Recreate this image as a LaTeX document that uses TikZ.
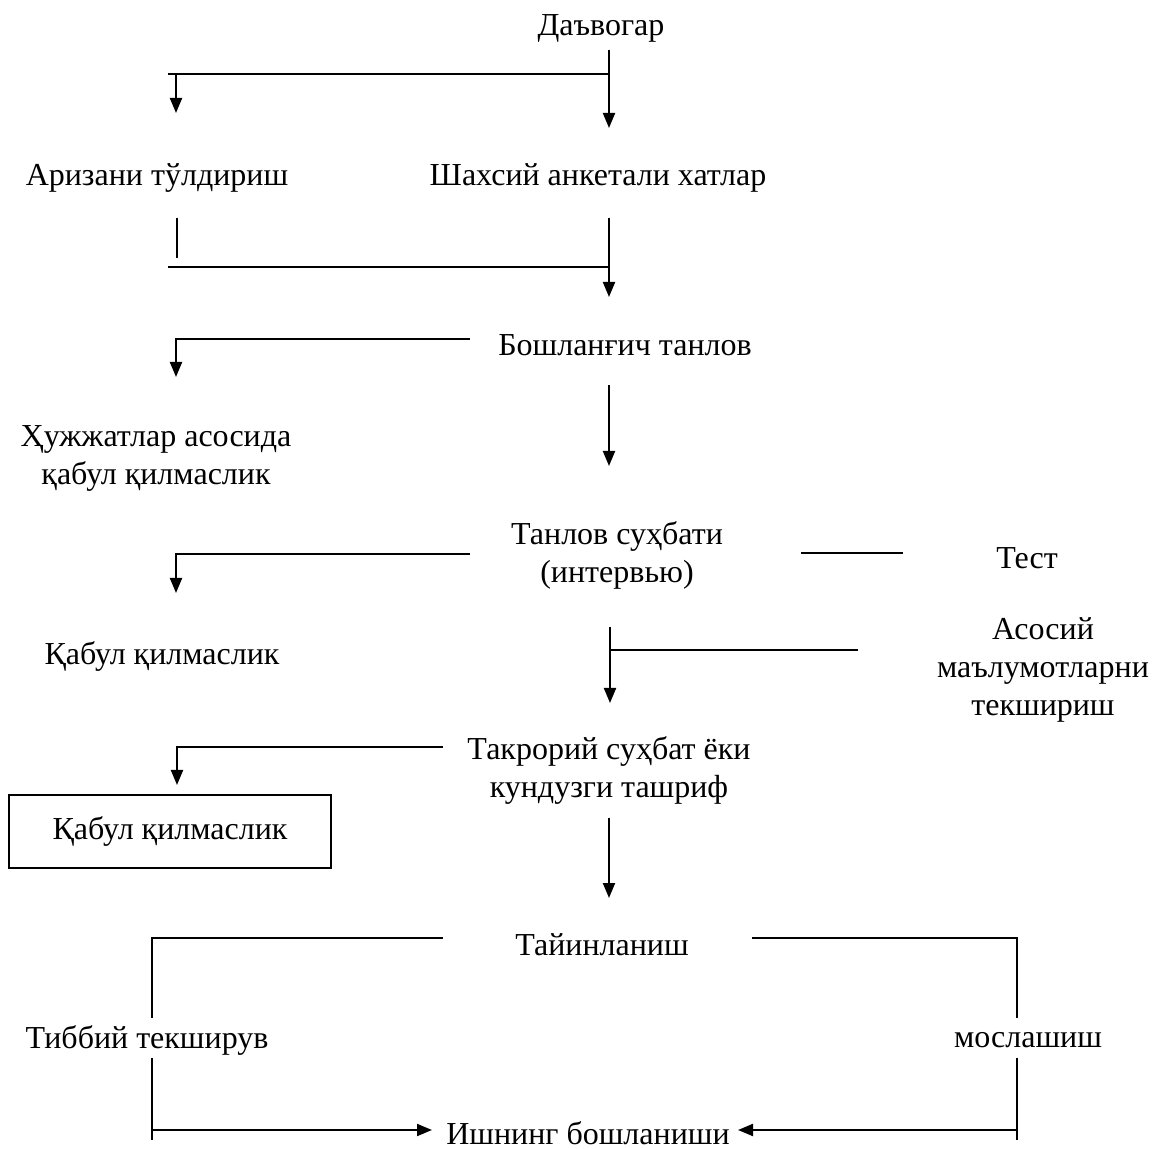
\documentclass[tikz,border=0pt]{standalone}
\usepackage{fontspec}
\setmainfont{Liberation Serif}
\usetikzlibrary{arrows.meta}
\begin{document}
\begin{tikzpicture}[x=0.5pt,y=-0.5pt,
  lbl/.style={font=\fontsize{16}{19}\selectfont, inner sep=0pt, align=center},
  boxed/.style={lbl, draw, line width=1pt, minimum width=161pt, minimum height=36.5pt},
  ln/.style={line width=1pt},
  arr/.style={line width=1pt, -{Triangle[length=7.5pt,width=6pt]}}]
\useasboundingbox (0,0) rectangle (1152,1149);

% text nodes
\node[lbl] (dav) at (601,28) {Даъвогар};
\node[lbl] (ariz) at (157,178) {Аризани тўлдириш};
\node[lbl] (shax) at (598,178) {Шахсий анкетали хатлар};
\node[lbl] (bosh) at (625,345) {Бошланғич танлов};
\node[lbl] (huj) at (156,458) {Ҳужжатлар асосида\\қабул қилмаслик};
\node[lbl] (tanl) at (617,555) {Танлов суҳбати\\(интервью)};
\node[lbl] (test) at (1027,558) {Тест};
\node[lbl] (qab1) at (162,657) {Қабул қилмаслик};
\node[lbl] (asos) at (1043,670) {Асосий\\маълумотларни\\текшириш};
\node[lbl] (takr) at (609,771) {Такрорий суҳбат ёки\\кундузги ташриф};
\node[boxed] (qab2) at (170,831.5) {Қабул қилмаслик};
\node[lbl] (tayi) at (602,945) {Тайинланиш};
\node[lbl] (tibb) at (147,1040) {Тиббий текширув};
\node[lbl] (mosl) at (1028,1040) {мослашиш};
\node[lbl] (ishn) at (588,1133) {Ишнинг бошланиши};

% coordinates
\coordinate (a1) at (609,50);
\coordinate (a2) at (609,74);
\coordinate (a3) at (609,128);
\coordinate (a4) at (168,74);
\coordinate (a5) at (176,74);
\coordinate (a6) at (176,113);

\coordinate (b1) at (177,218);
\coordinate (b2) at (177,258);
\coordinate (b3) at (168,267);
\coordinate (b4) at (609,267);
\coordinate (b5) at (609,218);
\coordinate (b6) at (609,297);

\coordinate (c1) at (470,339);
\coordinate (c2) at (176,339);
\coordinate (c3) at (176,377);
\coordinate (c4) at (609,385);
\coordinate (c5) at (609,466);

\coordinate (d1) at (470,554);
\coordinate (d2) at (176,554);
\coordinate (d3) at (176,593);
\coordinate (d4) at (801,553);
\coordinate (d5) at (903,553);

\coordinate (e1) at (610,627);
\coordinate (e2) at (610,650);
\coordinate (e3) at (610,703);
\coordinate (e4) at (858,650);

\coordinate (f1) at (443,747);
\coordinate (f2) at (177,747);
\coordinate (f3) at (177,785);
\coordinate (f4) at (609,818);
\coordinate (f5) at (609,898);

\coordinate (g1) at (443,938);
\coordinate (g2) at (152,938);
\coordinate (g3) at (152,1018);
\coordinate (g4) at (752,938);
\coordinate (g5) at (1017,938);
\coordinate (g6) at (1017,1018);

\coordinate (h1) at (152,1058);
\coordinate (h2) at (152,1140);
\coordinate (h3) at (152,1130);
\coordinate (h4) at (432,1130);
\coordinate (h5) at (1017,1058);
\coordinate (h6) at (1017,1140);
\coordinate (h7) at (1017,1130);
\coordinate (h8) at (738,1130);

% connectors
\draw[arr] (a1) -- (a3);
\draw[ln] (a2) -- (a4);
\draw[arr] (a5) -- (a6);

\draw[ln] (b1) -- (b2);
\draw[ln] (b3) -- (b4);
\draw[arr] (b5) -- (b6);

\draw[arr] (c1) -- (c2) -- (c3);
\draw[arr] (c4) -- (c5);

\draw[arr] (d1) -- (d2) -- (d3);
\draw[ln] (d4) -- (d5);

\draw[arr] (e1) -- (e3);
\draw[ln] (e2) -- (e4);

\draw[arr] (f1) -- (f2) -- (f3);
\draw[arr] (f4) -- (f5);

\draw[ln] (g1) -- (g2) -- (g3);
\draw[ln] (g4) -- (g5) -- (g6);

\draw[ln] (h1) -- (h2);
\draw[arr] (h3) -- (h4);
\draw[ln] (h5) -- (h6);
\draw[arr] (h7) -- (h8);
\end{tikzpicture}
\end{document}
